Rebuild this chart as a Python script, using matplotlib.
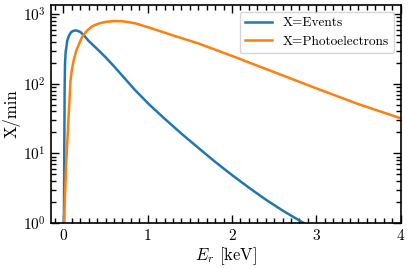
import matplotlib
matplotlib.use('Agg')
import matplotlib.pyplot as plt
from matplotlib.ticker import MultipleLocator, LogLocator, NullFormatter

plt.rcParams['font.family'] = 'serif'
plt.rcParams['font.serif'] = ['cmr10']
plt.rcParams['mathtext.fontset'] = 'cm'
plt.rcParams['axes.formatter.use_mathtext'] = True
plt.rcParams['axes.unicode_minus'] = False

# recoil energy [keV] and rate [1/min]
E_events = [0.005, 0.010, 0.014, 0.018, 0.025, 0.044, 0.063, 0.09, 0.115, 0.15,
            0.2, 0.25, 0.3, 0.4, 0.5, 0.6, 0.7, 0.85, 1.02, 1.2,
            1.4, 1.6, 1.8, 2.0, 2.2, 2.4, 2.6, 2.85]
events = [1.0, 15, 90, 190, 280, 411, 485, 550, 575, 585,
          555, 484, 411, 316, 240, 178, 130, 81, 50, 31.5,
          19.2, 12.0, 7.55, 4.88, 3.22, 2.17, 1.51, 1.0]

E_pe = [0.008, 0.016, 0.03, 0.05, 0.07, 0.083, 0.1, 0.12, 0.15, 0.22,
        0.28, 0.34, 0.42, 0.5, 0.6, 0.7, 0.85, 1.02, 1.3, 1.6,
        2.0, 2.5, 3.0, 3.5, 4.0]
photoelectrons = [1.0, 2.1, 6.3, 19, 55, 110, 160, 215, 296, 470,
                  580, 670, 735, 776, 795, 792, 740, 640, 495, 380,
                  251, 147, 86, 51, 32]

fig = plt.figure(figsize=(4.1, 2.68), dpi=100)
ax = fig.add_axes([0.124, 0.168, 0.853, 0.813])

ax.plot(E_events, events, color='#1f77b4', lw=1.8, label='X=Events')
ax.plot(E_pe, photoelectrons, color='#ff7f0e', lw=1.8, label='X=Photoelectrons')

ax.set_yscale('log')
ax.set_xlim(-0.15, 4)
ax.set_ylim(1, 1350)
ax.xaxis.set_major_locator(MultipleLocator(1))
ax.xaxis.set_minor_locator(MultipleLocator(0.1))
ax.yaxis.set_major_locator(LogLocator(base=10, numticks=10))
ax.yaxis.set_minor_locator(LogLocator(base=10, subs=range(2, 10), numticks=10))
ax.yaxis.set_minor_formatter(NullFormatter())

ax.tick_params(which='both', direction='in', top=True, right=True, labelsize=11)
ax.tick_params(which='major', length=6, width=1)
ax.tick_params(which='minor', length=3.5, width=1)
for s in ax.spines.values():
    s.set_linewidth(1.2)

ax.set_xlabel(r'$E_r$ [keV]', fontsize=12, labelpad=2)
ax.set_ylabel('X/min', fontsize=12, labelpad=2)
ax.legend(loc='upper right', fontsize=9.6, frameon=True, handlelength=2.0,
          labelspacing=0.45)

fig.savefig('out.png', dpi=100)
